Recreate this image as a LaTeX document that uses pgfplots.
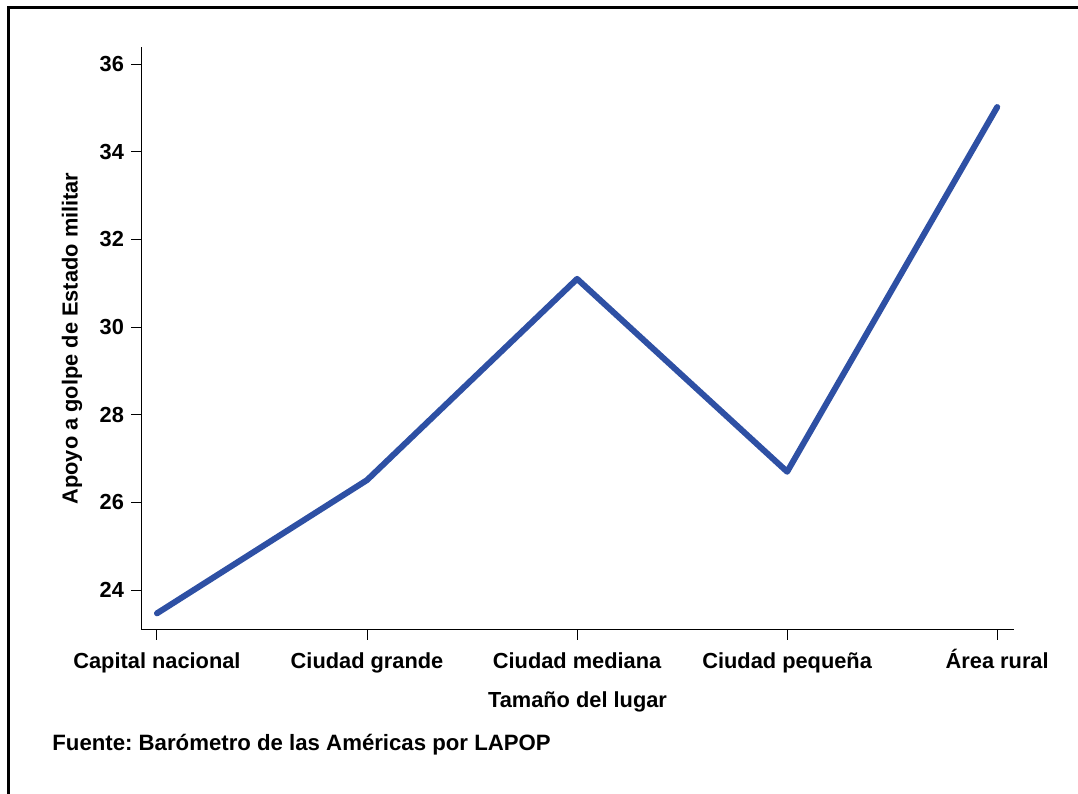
\documentclass[border=0pt]{standalone}
\usepackage{fontspec}
\setmainfont{Liberation Sans}
\usepackage{pgfplots}
\pgfplotsset{compat=1.18}
\definecolor{lineblue}{RGB}{46,80,164}

\begin{document}
\begin{tikzpicture}
\path[use as bounding box] (0,0) rectangle (539bp,397bp);
% outer frame (only top and left edges show)
\draw[line width=1.5bp] (4bp,0) -- (4bp,393bp) -- (539bp,393bp);
\begin{axis}[
    at={(70.5bp,82bp)}, anchor=south west,
    scale only axis,
    width=436.5bp, height=291.5bp,
    axis x line=bottom, axis y line=left,
    axis line style={-, line width=0.5bp},
    tick style={black, line width=0.5bp},
    tick align=outside, major tick length=5bp,
    xmin=-0.076, xmax=4.08,
    ymin=23.09, ymax=36.39,
    xtick={0,1,2,3,4},
    xticklabels={Capital nacional, Ciudad grande, Ciudad mediana, Ciudad pequeña, Área rural},
    ytick={24,26,...,36},
    /pgf/number format/assume math mode=true,
    tick label style={font=\fontsize{10.9bp}{13bp}\selectfont\bfseries},
    xticklabel style={text height=8bp, text depth=2.4bp, yshift=-2.5bp},
    label style={font=\fontsize{10.9bp}{13bp}\selectfont\bfseries},
    xlabel={Tamaño del lugar},
    ylabel={Apoyo a golpe de Estado militar},
    xlabel style={at={(axis description cs:0.5,-0.1235)}, anchor=center},
    ylabel style={at={(axis description cs:-0.079,0.5)}, anchor=center},
    clip=false,
]
\addplot[lineblue, line width=3bp, line cap=round, line join=round]
  coordinates {(0,23.47) (1,26.51) (2,31.1) (3,26.7) (4,35.02)};
\end{axis}
\node[anchor=west, inner sep=0pt, font=\fontsize{11.1bp}{13bp}\selectfont\bfseries] at (26bp,24.5bp)
  {Fuente:\ Barómetro de las Américas por LAPOP};
\end{tikzpicture}
\end{document}
